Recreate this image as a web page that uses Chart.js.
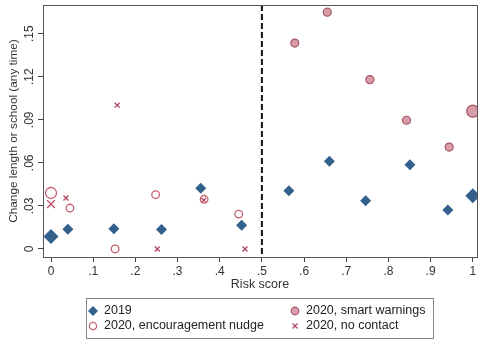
<!DOCTYPE html>
<html>
<head>
<meta charset="utf-8">
<script src="https://cdn.jsdelivr.net/npm/chart.js@4/dist/chart.umd.min.js"></script>
<style>
  html, body { margin: 0; padding: 0; background: #fff; }
  #wrap { width: 478px; height: 339px; }
</style>
</head>
<body>
<div id="wrap"><canvas id="grafico" width="478" height="339"></canvas></div>
<script>
// risk score (x) and share changing length or school (y)
const risk2019 = [0, 0.04, 0.149, 0.262, 0.355, 0.452, 0.564, 0.660, 0.746, 0.851, 0.941, 1];
const change2019 = [0.0086, 0.0138, 0.014, 0.0135, 0.0423, 0.0166, 0.0406, 0.0612, 0.0336, 0.0587, 0.0271, 0.0371];

const riskNudge = [0, 0.045, 0.152, 0.248, 0.363, 0.445];
const changeNudge = [0.039, 0.0285, 0.0, 0.0378, 0.0346, 0.0243];

const riskSmart = [0.578, 0.655, 0.756, 0.843, 0.944, 1];
const changeSmart = [0.1435, 0.165, 0.118, 0.0897, 0.071, 0.096];

const riskNoContact = [0, 0.0355, 0.157, 0.252, 0.362, 0.46];
const changeNoContact = [0.0313, 0.0355, 0.1002, 0, 0.034, 0];

const seriesNames = ['2019', '2020, encouragement nudge', '2020, smart warnings', '2020, no contact'];
const xTickLabels = ['0', '.1', '.2', '.3', '.4', '.5', '.6', '.7', '.8', '.9', '1'];
const yTickLabels = ['0', '.03', '.06', '.09', '.12', '.15'];
const cutoff = 0.5;

const pontos = (xs, ys) => xs.map((x, i) => ({ x, y: ys[i] }));
const naBorda = (c) => c.raw && (c.raw.x === 0 || c.raw.x === 1);

const azul = '#34608c';
const rosa = '#c4606f';
const rosaFill = '#d89ea8';
const rosaBorda = '#a5526a';
const cruz = '#b4435c';

const fonte = 'Arial, "Liberation Sans", sans-serif';

const extras = {
    id: 'extras',
    afterDatasetsDraw(chart) {
        const { ctx, chartArea: a, scales } = chart;
        ctx.save();
        // cutoff line
        const xc = scales.x.getPixelForValue(cutoff);
        ctx.strokeStyle = '#111';
        ctx.lineWidth = 2;
        ctx.setLineDash([6, 3]);
        ctx.beginPath();
        ctx.moveTo(xc, a.top);
        ctx.lineTo(xc, a.bottom);
        ctx.stroke();
        ctx.setLineDash([]);
        // frame
        ctx.strokeStyle = '#555';
        ctx.lineWidth = 1;
        ctx.strokeRect(a.left + 0.5, a.top + 0.5, a.right - a.left, a.bottom - a.top);
        ctx.restore();
    },
    afterDraw(chart) {
        const { ctx, scales, chartArea: a } = chart;
        ctx.save();
        ctx.fillStyle = '#333';
        ctx.font = '12px ' + fonte;
        ctx.textAlign = 'center';
        ctx.textBaseline = 'middle';
        // x tick labels
        scales.x.ticks.forEach((t, i) => {
            ctx.fillText(xTickLabels[i], scales.x.getPixelForValue(t.value), a.bottom + 15);
        });
        // rotated y tick labels
        scales.y.ticks.forEach((t, i) => {
            const py = scales.y.getPixelForValue(t.value);
            ctx.save();
            ctx.translate(30, py);
            ctx.rotate(-Math.PI / 2);
            ctx.fillText(yTickLabels[i], 0, 0);
            ctx.restore();
        });

        // legend
        const bx = 86, by = 298, bw = 347, bh = 40;
        ctx.strokeStyle = '#888';
        ctx.lineWidth = 1;
        ctx.strokeRect(bx + 0.5, by + 0.5, bw, bh);
        ctx.font = '12.5px ' + fonte;
        ctx.textAlign = 'left';
        const itens = [
            { n: 0, x: 93, y: 311 },
            { n: 2, x: 295, y: 311 },
            { n: 1, x: 93, y: 326 },
            { n: 3, x: 295, y: 326 },
        ];
        itens.forEach((it) => {
            const mx = it.x, my = it.y;
            ctx.beginPath();
            if (it.n === 0) {
                ctx.fillStyle = azul;
                ctx.moveTo(mx - 5, my); ctx.lineTo(mx, my - 5);
                ctx.lineTo(mx + 5, my); ctx.lineTo(mx, my + 5);
                ctx.closePath();
                ctx.fill();
            } else if (it.n === 1) {
                ctx.strokeStyle = rosa;
                ctx.lineWidth = 1.3;
                ctx.arc(mx, my, 3.6, 0, Math.PI * 2);
                ctx.stroke();
            } else if (it.n === 2) {
                ctx.fillStyle = rosaFill;
                ctx.strokeStyle = rosaBorda;
                ctx.lineWidth = 1.2;
                ctx.arc(mx, my, 3.8, 0, Math.PI * 2);
                ctx.fill();
                ctx.stroke();
            } else {
                ctx.strokeStyle = cruz;
                ctx.lineWidth = 1.2;
                ctx.moveTo(mx - 2.5, my - 2.5); ctx.lineTo(mx + 2.5, my + 2.5);
                ctx.moveTo(mx + 2.5, my - 2.5); ctx.lineTo(mx - 2.5, my + 2.5);
                ctx.stroke();
            }
            ctx.fillStyle = '#222';
            ctx.textBaseline = 'middle';
            ctx.fillText(seriesNames[it.n], mx + 11, my);
        });
        ctx.restore();
    },
};

new Chart(document.getElementById('grafico'), {
    type: 'scatter',
    data: {
        datasets: [
            {
                label: seriesNames[0],
                data: pontos(risk2019, change2019),
                pointStyle: 'rectRot',
                backgroundColor: azul,
                borderColor: azul,
                borderWidth: 0,
                pointRadius: (c) => (naBorda(c) ? 7.5 : 5.5),
            },
            {
                label: seriesNames[1],
                data: pontos(riskNudge, changeNudge),
                pointStyle: 'circle',
                backgroundColor: 'rgba(255,255,255,0)',
                borderColor: rosa,
                borderWidth: 1.3,
                pointRadius: (c) => (naBorda(c) ? 5.5 : 3.8),
            },
            {
                label: seriesNames[2],
                data: pontos(riskSmart, changeSmart),
                pointStyle: 'circle',
                backgroundColor: rosaFill,
                borderColor: rosaBorda,
                borderWidth: 1.2,
                pointRadius: (c) => (naBorda(c) ? 6 : 4),
            },
            {
                label: seriesNames[3],
                data: pontos(riskNoContact, changeNoContact),
                pointStyle: 'crossRot',
                borderColor: cruz,
                borderWidth: 1.3,
                pointRadius: (c) => (naBorda(c) ? 5.5 : 3.5),
            },
        ],
    },
    options: {
        responsive: false,
        animation: false,
        events: [],
        layout: { autoPadding: false, padding: { top: 5, right: 1, bottom: 47, left: 0 } },
        plugins: { legend: { display: false }, tooltip: { enabled: false } },
        scales: {
            x: {
                type: 'linear',
                min: -0.019,
                max: 1.01,
                ticks: {
                    display: false,
                    stepSize: 0.1,
                    includeBounds: false,
                    autoSkip: false,
                },
                grid: { display: true, drawOnChartArea: false, drawTicks: true, tickLength: 5, color: '#444' },
                border: { display: true, color: '#444' },
                title: {
                    display: true,
                    text: 'Risk score',
                    color: '#333',
                    font: { family: fonte, size: 12.5 },
                    padding: { top: 0, bottom: 0 },
                },
                afterFit: (s) => { s.height = 35; },
            },
            y: {
                type: 'linear',
                min: -0.0056,
                max: 0.17,
                ticks: {
                    display: false,
                    stepSize: 0.03,
                    includeBounds: false,
                },
                grid: { display: true, drawOnChartArea: false, drawTicks: true, tickLength: 5, color: '#444' },
                border: { display: true, color: '#444' },
                title: {
                    display: true,
                    text: 'Change length or school (any time)',
                    color: '#333',
                    font: { family: fonte, size: 11.8 },
                    padding: { top: 7, bottom: 0 },
                },
                afterFit: (s) => { s.width = 43; },
            },
        },
    },
    plugins: [extras],
});
</script>
</body>
</html>
